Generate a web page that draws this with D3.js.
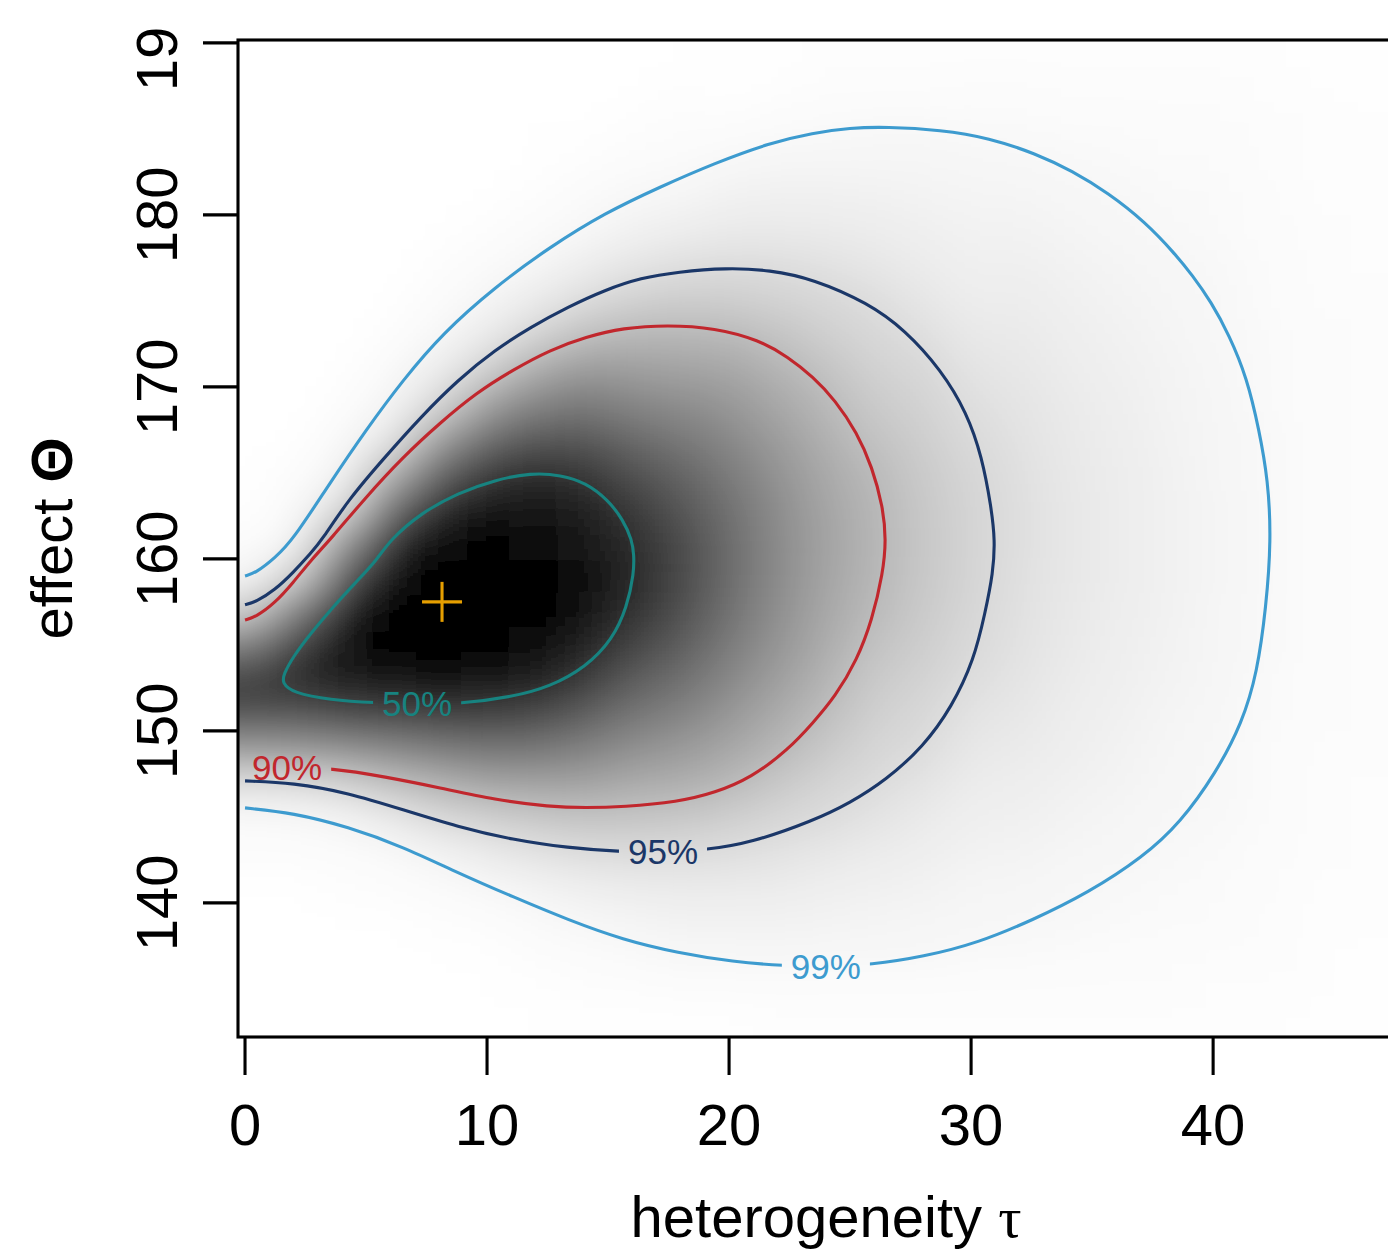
<!DOCTYPE html>
<html><head><meta charset="utf-8">
<script src="https://cdn.jsdelivr.net/npm/d3@7"></script>
<style>body{margin:0;background:#fff}svg{display:block}</style>
</head><body>
<svg id="chart" width="1388" height="1257"></svg>
<script>
// ---------- data ----------
const tauValues = [0,2,4,6,8,10,12,14,16,18,20,22,24,26,28,30,32,34,36,38,40,42,44,46];
const effectValues = [133,135,137,139,141,143,145,147,149,151,153,155,157,159,161,163,165,167,169,171,173,175,177,179,181,183,185,187,189];
// posterior density shading (0 = white, 100 = black), one array per tau column, bottom to top in effect
const densityByTau = [
 [0,0,0,0,0.4,1,2.5,13,40,68,75,50,18,3,1.3,0.5,0.2,0,0,0,0,0,0,0,0,0,0,0,0],
 [0,0,0,0.1,0.45,1.2,2.8,14,41,67,84,74,50,17,3.2,1.4,0.6,0.25,0.1,0,0,0,0,0,0,0,0,0,0],
 [0,0,0.1,0.3,0.65,1.7,4.4,18,44,72,90,95,90,68,40,13,3.8,1.8,0.8,0.35,0.15,0,0,0,0,0,0,0,0],
 [0,0.1,0.15,0.4,1.1,2.5,8.8,25,48,74,92,98,100,97,85,58,30,9.5,3.6,1.9,0.9,0.4,0.15,0,0,0,0,0,0],
 [0.1,0.15,0.35,0.8,1.9,4.8,15,31,52,76,94,99,100,100,97,85,62,38,16,6.6,2.8,1.4,0.6,0.25,0.1,0,0,0,0],
 [0.1,0.25,0.55,1.3,3,8.4,19,36,55,76,93,99,100,100,98,92,78,58,38,19,8.4,3.5,1.8,0.85,0.4,0.15,0.05,0,0],
 [0.2,0.45,1.0,2.2,4.9,11.4,22,37,54,72,88,96,99,99,97,92,83,66,49,33,17.4,8.2,3.6,1.9,0.9,0.45,0.2,0.05,0],
 [0.3,0.6,1.4,3.4,6.7,13.8,23.5,37,50,64,78,89,94,96,93,88,79,66,53,40,26,14.3,7,3.2,1.8,0.85,0.4,0.15,0.05],
 [0.4,0.9,2.2,4.4,7.8,14,23,33,44,54,64,74,82,86,84,78,69,59,48,38,28.8,18.4,10.4,5.5,3,1.6,0.8,0.35,0.15],
 [0.5,1.3,3,5,8.3,14,22,32,40,49,57,64,70,72,71,67,61,53,45,36,28.5,20,13,7.2,4.1,2.1,1.2,0.6,0.3],
 [0.5,1.1,3.2,5.2,8.1,13.1,19.4,28,35,41,47,52,56,58,58,56,52,47,41,35,28,19.6,13.7,8.5,5.3,3.2,1.1,0.5,0.25],
 [0.6,1.3,3.4,5.2,7.7,11.4,16.2,21.7,28.5,33.5,38,42,44.5,46,46,45,42.5,39,34.5,30,23.7,17.8,13.2,8.8,5.9,3.9,2.0,0.8,0.4],
 [0.7,1.3,3.3,4.8,6.8,9.6,13.8,17,21,25.9,29.6,32.4,34.5,35.7,36,35.2,33.6,31.1,28,23.5,19,15.5,11.8,8.3,5.9,4.1,2.5,1.1,0.6],
 [0.7,1.3,3.2,4.4,5.9,8.0,10.8,14.3,16.2,18.5,20.9,23.8,27,28.5,29,28.5,26.9,23.4,20.4,17.8,15.6,13.2,9.9,7.3,5.5,4.1,2.6,1.2,0.7],
 [0.8,1.3,3.0,3.9,5.1,6.5,8.3,10.8,14,15.6,17.7,19.5,20.8,21.7,22,21.7,20.8,19.5,17.7,15.6,12.8,10,7.9,6.2,4.8,3.8,2.6,1.3,0.8],
 [0.8,1.2,2.2,3.4,4.1,5.0,6.1,7.3,9.0,10.8,13.0,15,16.1,16.8,17,16.8,16.1,14.6,12.6,10.4,8.7,7.2,6.0,5.0,4.2,3.5,2.4,1.4,0.8],
 [0.9,1.3,2.2,3.1,4.0,4.9,6.0,7.1,8.2,9.3,10.4,11.2,11.9,12.3,12.5,12.4,12.0,11.4,10.5,9.5,8.5,7.3,6.2,5.2,4.2,3.3,2.2,1.4,0.9],
 [0.85,1.2,1.9,2.7,3.3,4.0,4.8,5.6,6.5,7.2,8.0,8.6,9.1,9.4,9.5,9.5,9.2,8.7,8.2,7.5,6.7,5.9,5.1,4.3,3.5,2.9,2.0,1.3,0.9],
 [0.8,1.1,1.6,2.3,2.8,3.4,4.0,4.6,5.2,5.8,6.4,6.8,7.2,7.4,7.5,7.45,7.3,6.9,6.5,6.0,5.4,4.8,4.2,3.6,3.0,2.4,1.8,1.2,0.85],
 [0.8,1.0,1.5,2.0,2.4,2.8,3.2,3.6,4.1,4.4,4.8,5.1,5.3,5.45,5.5,5.47,5.35,5.15,4.9,4.55,4.2,3.8,3.35,2.9,2.5,2.1,1.6,1.1,0.85],
 [0.75,0.95,1.35,1.8,2.07,2.37,2.66,2.96,3.24,3.5,3.73,3.92,4.07,4.16,4.2,4.18,4.1,3.97,3.8,3.57,3.32,3.05,2.75,2.45,2.16,1.87,1.45,1.0,0.8],
 [0.79,0.94,1.1,1.27,1.44,1.62,1.8,1.98,2.15,2.31,2.45,2.56,2.64,2.69,2.72,2.71,2.66,2.58,2.48,2.35,2.2,2.04,1.86,1.67,1.5,1.32,1.15,0.98,0.83],
 [0.55,0.64,0.74,0.84,0.95,1.06,1.16,1.27,1.37,1.45,1.53,1.59,1.64,1.67,1.68,1.67,1.65,1.6,1.55,1.48,1.39,1.3,1.2,1.09,0.98,0.88,0.77,0.67,0.58],
 [0.43,0.5,0.58,0.65,0.73,0.81,0.9,0.98,1.05,1.12,1.18,1.22,1.26,1.28,1.3,1.29,1.27,1.24,1.2,1.14,1.07,1.0,0.92,0.84,0.76,0.68,0.6,0.52,0.45]
];
// credible-region contours [tau, effect]
const contour50 = [[1.53,152.79],[1.98,152.21],[3.51,151.80],[5.33,151.63],[7.11,151.57],[8.88,151.57],[11.07,151.98],[12.60,152.56],[14.09,153.72],[15.17,155.29],[15.79,157.21],[16.07,159.19],[16.07,160.23],[15.99,161.10],[15.62,162.27],[15.00,163.43],[14.09,164.42],[13.06,164.88],[11.82,165.00],[10.33,164.59],[8.80,163.84],[7.27,162.67],[5.99,161.10],[5.45,159.94],[4.55,158.60],[3.64,157.21],[2.73,155.70],[1.98,154.30],[1.60,153.30]];
const contour90 = [[0,147.85],[1.8,147.85],[3.55,147.85],[5.79,147.33],[8.06,146.69],[10.33,145.99],[12.60,145.58],[14.09,145.52],[15.62,145.58],[17.89,145.87],[19.42,146.40],[20.91,147.27],[22.44,148.90],[23.47,150.47],[24.38,151.98],[25.29,154.13],[25.91,156.45],[26.36,159.19],[26.49,161.10],[26.36,163.02],[25.91,165.35],[25.29,167.33],[24.38,169.24],[23.47,170.58],[22.44,171.74],[21.24,172.73],[19.42,173.43],[17.44,173.60],[15.62,173.43],[14.09,172.91],[12.60,172.15],[11.07,170.99],[9.55,169.65],[8.06,167.91],[6.53,165.93],[5.00,163.60],[3.51,161.10],[2.73,159.94],[1.98,158.60],[1.24,157.44],[0.45,156.63],[0,156.45]];
const contour95 = [[0,147.09],[1.98,146.98],[4.26,146.40],[6.53,145.41],[8.80,144.42],[11.07,143.66],[13.35,143.20],[15.45,142.97],[17.27,142.97],[19.09,143.08],[20.91,143.49],[23.47,144.77],[25.00,145.81],[26.49,147.15],[28.02,149.07],[29.21,151.40],[30.12,154.13],[30.58,156.86],[30.91,159.19],[30.99,161.10],[30.83,163.02],[30.45,165.93],[29.83,168.49],[28.76,170.99],[27.27,173.31],[25.74,174.88],[23.47,176.28],[21.69,176.80],[19.88,176.92],[17.89,176.69],[16.36,176.34],[14.88,175.64],[13.35,174.65],[11.82,173.49],[10.33,172.15],[8.80,170.41],[7.27,168.26],[5.79,165.93],[4.26,163.43],[3.18,161.10],[2.73,160.35],[1.98,159.19],[1.24,158.20],[0.45,157.50],[0,157.33]];
const contour99 = [[0,145.52],[1.98,145.23],[4.26,144.42],[6.53,143.26],[8.80,141.74],[11.07,140.35],[13.35,139.01],[15.62,137.85],[17.89,137.09],[20.17,136.57],[22.27,136.34],[24.0,136.30],[25.87,136.40],[28.02,136.86],[30.29,137.67],[32.56,139.01],[34.83,140.58],[37.11,142.67],[38.64,144.65],[40.12,147.56],[41.20,150.47],[41.82,153.37],[42.19,157.21],[42.40,161.10],[42.27,164.59],[41.90,167.50],[41.40,170.52],[40.66,173.02],[39.92,174.94],[39.13,176.51],[38.43,177.73],[37.19,179.59],[35.66,181.28],[34.17,182.56],[32.69,183.55],[30.74,184.48],[28.76,184.94],[26.49,185.12],[25.00,185.06],[23.47,184.77],[21.69,184.19],[19.42,183.02],[17.15,181.63],[14.88,180.12],[12.60,178.14],[10.33,175.81],[8.18,173.14],[6.53,170.41],[5.00,167.50],[3.51,164.42],[1.98,161.10],[1.24,160.06],[0.45,159.19],[0,159.01]];
const contourLevels = ["50%","90%","95%","99%"];
const labelTau = [7.11, 1.74, 17.27, 24.0];
const labelEffect = [151.57, 147.85, 142.97, 136.30];
const modePoint = [8.14, 157.5];
const xTicks = [0,10,20,30,40];
const yTicks = [140,150,160,170,180,190];

// ---------- layout ----------
const W = 1388, H = 1257;
const svg = d3.select("#chart");
const x = d3.scaleLinear().domain([-0.29, 48.3]).range([238, 1414]);
const y = d3.scaleLinear().domain([132.2, 190.17]).range([1037, 40]);
const gray = d3.scaleLinear().domain([0,100]).range(["#ffffff","#000000"]).clamp(true);
const font = "'Liberation Sans', Arial, Helvetica, sans-serif";
const defs = svg.append("defs");
defs.append("clipPath").attr("id","plotClip").append("rect")
  .attr("x", x.range()[0]).attr("y", y.range()[1])
  .attr("width", x.range()[1]-x.range()[0]).attr("height", y.range()[0]-y.range()[1]);
defs.append("clipPath").attr("id","figClip").append("rect")
  .attr("x", 0).attr("y", 29).attr("width", W).attr("height", H-29);
const blur = defs.append("filter").attr("id","smooth")
  .attr("x","-5%").attr("y","-5%").attr("width","110%").attr("height","110%");
blur.append("feGaussianBlur").attr("stdDeviation","25 17");

// ---------- heat map ----------
const dT = tauValues[1]-tauValues[0], dE = effectValues[1]-effectValues[0];
const cells = [];
densityByTau.forEach((col, j) => col.forEach((v, i) => cells.push({j, i, tau: tauValues[j], eff: effectValues[i], v})));
const nT = tauValues.length, nE = effectValues.length, ext = 80;
const heatClip = svg.append("g").attr("clip-path","url(#plotClip)");
heatClip.append("g").attr("filter","url(#smooth)")
  .selectAll("rect").data(cells).join("rect")
  .attr("shape-rendering","crispEdges")
  .attr("x", d => x(d.tau - dT/2) - (d.j===0 ? ext : 0))
  .attr("width", d => x(d.tau + dT/2) - x(d.tau - dT/2) + (d.j===0 ? ext : 0) + (d.j===nT-1 ? ext : 0) + 0.5)
  .attr("y", d => y(d.eff + dE/2) - (d.i===nE-1 ? ext : 0))
  .attr("height", d => y(d.eff - dE/2) - y(d.eff + dE/2) + (d.i===nE-1 ? ext : 0) + (d.i===0 ? ext : 0) + 0.5)
  .attr("fill", d => gray(d.v));

// ---------- contours ----------
const contourData = [contour50, contour90, contour95, contour99];
const contourColors = ["#178380","#C1272D","#1B3768","#3D9BCF"];
const lineOpen = d3.line().x(d=>x(d[0])).y(d=>y(d[1])).curve(d3.curveBasis);
const lineClosed = d3.line().x(d=>x(d[0])).y(d=>y(d[1])).curve(d3.curveBasisClosed);
const contourG = svg.append("g").attr("clip-path","url(#plotClip)");
const labelG = svg.append("g");
contourLevels.forEach((lab, k) => {
  const t = labelG.append("text")
    .attr("x", x(labelTau[k])).attr("y", y(labelEffect[k])).attr("dy","0.36em")
    .attr("text-anchor","middle").attr("font-family", font).attr("font-size", 35)
    .attr("fill", contourColors[k]).text(lab);
  const bb = t.node().getBBox();
  const m = defs.append("mask").attr("id","mask"+k).attr("maskUnits","userSpaceOnUse")
    .attr("x",0).attr("y",0).attr("width",W).attr("height",H);
  m.append("rect").attr("x",0).attr("y",0).attr("width",W).attr("height",H).attr("fill","white");
  m.append("rect").attr("x", bb.x-9).attr("y", bb.y+2).attr("width", bb.width+18).attr("height", bb.height-4).attr("fill","black");
  contourG.append("path")
    .attr("d", k===0 ? lineClosed(contourData[k]) : lineOpen(contourData[k]))
    .attr("fill","none").attr("stroke", contourColors[k]).attr("stroke-width", 3.1)
    .attr("stroke-linejoin","round").attr("mask", "url(#mask"+k+")");
});

// ---------- mode ----------
const mx = x(modePoint[0]), my = y(modePoint[1]), arm = 20;
const modeG = svg.append("g").attr("stroke","#E69F00").attr("stroke-width",3.1);
modeG.append("line").attr("x1",mx-arm).attr("x2",mx+arm).attr("y1",my).attr("y2",my);
modeG.append("line").attr("x1",mx).attr("x2",mx).attr("y1",my-arm).attr("y2",my+arm);

// ---------- frame and axes ----------
svg.append("rect").attr("x", x.range()[0]).attr("y", y.range()[1])
  .attr("width", x.range()[1]-x.range()[0]).attr("height", y.range()[0]-y.range()[1])
  .attr("fill","none").attr("stroke","#000").attr("stroke-width",3.1);
const xAxisG = svg.append("g");
xAxisG.selectAll("line").data(xTicks).join("line")
  .attr("x1", d=>x(d)).attr("x2", d=>x(d)).attr("y1", y.range()[0]).attr("y2", y.range()[0]+38)
  .attr("stroke","#000").attr("stroke-width",3.1);
xAxisG.selectAll("text").data(xTicks).join("text")
  .attr("x", d=>x(d)).attr("y", 1145).attr("text-anchor","middle")
  .attr("font-family", font).attr("font-size", 58).attr("fill","#000").text(d=>d);
const yAxisG = svg.append("g");
yAxisG.selectAll("line").data(yTicks).join("line")
  .attr("x1", x.range()[0]-35).attr("x2", x.range()[0]).attr("y1", d=>y(d)).attr("y2", d=>y(d))
  .attr("stroke","#000").attr("stroke-width",3.1);
yAxisG.append("g").attr("clip-path","url(#figClip)")
  .selectAll("text").data(yTicks).join("text")
  .attr("transform", d=>`translate(177,${y(d)}) rotate(-90)`).attr("text-anchor","middle")
  .attr("font-family", font).attr("font-size", 58).attr("fill","#000").text(d=>d);

// titles
const xt = svg.append("text").attr("x", (x.range()[0]+x.range()[1])/2).attr("y", 1237)
  .attr("text-anchor","middle").attr("font-family", font).attr("font-size", 58).attr("fill","#000");
xt.append("tspan").text("heterogeneity ");
xt.append("tspan").attr("font-family","'Liberation Serif','DejaVu Serif',serif").text("τ");
const yt = svg.append("text").attr("transform", `translate(72,${(y.range()[0]+y.range()[1])/2}) rotate(-90)`)
  .attr("text-anchor","middle").attr("font-family", font).attr("font-size", 58).attr("fill","#000");
yt.append("tspan").text("effect ");
yt.append("tspan").attr("font-weight","bold").text("Θ");
</script>
</body></html>
